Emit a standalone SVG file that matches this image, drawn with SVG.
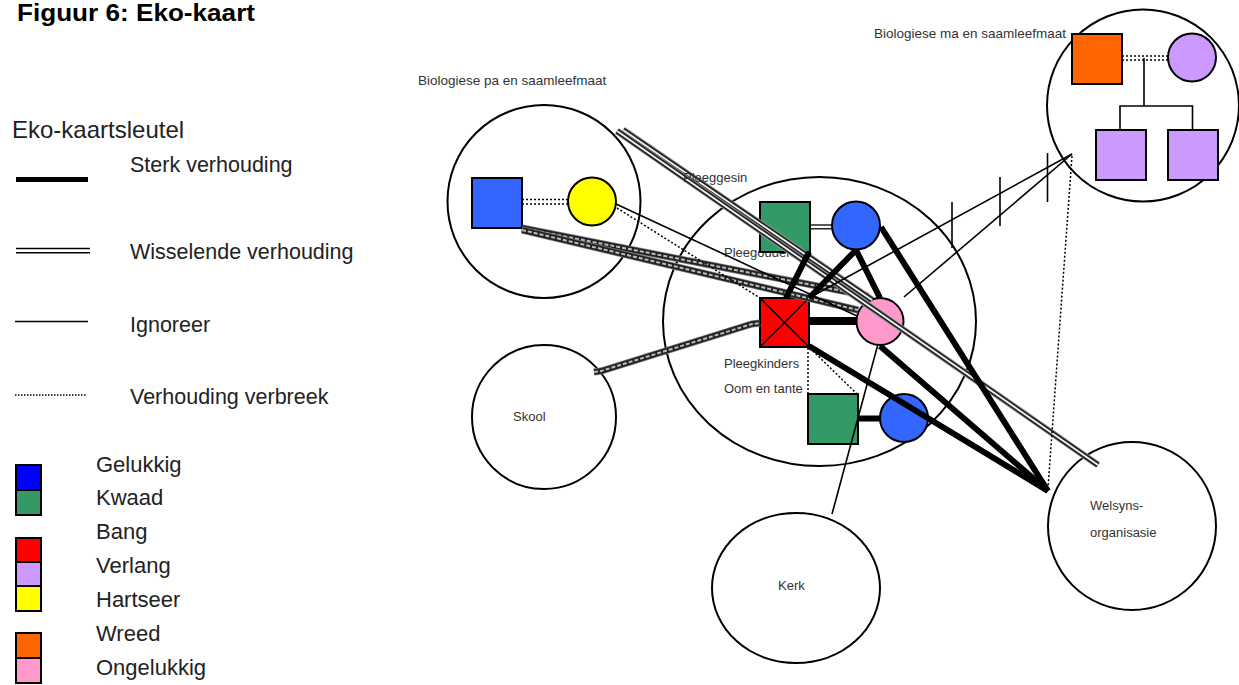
<svg xmlns="http://www.w3.org/2000/svg" width="1239" height="685" viewBox="0 0 1239 685">
<style>
text { font-family: "Liberation Sans", Arial, sans-serif; }
.title { font-size: 24px; font-weight: bold; fill: #000; }
.key { font-size: 21.5px; fill: #222; }
.lbl { font-size: 13px; fill: #333; }
.sq { stroke: #000; stroke-width: 2; }
.ring { fill: none; stroke: #000; stroke-width: 2; }
.strong { stroke: #000; stroke-width: 6; fill: none; }
.thin { stroke: #000; stroke-width: 1.6; fill: none; }
.dot { stroke: #000; stroke-width: 1.5; stroke-dasharray: 2 2; fill: none; }
.dblo { stroke: #999; stroke-width: 7; fill: none; }
.dblm { stroke: #222; stroke-width: 5.2; fill: none; }
.dbli { stroke: #f2f2f2; stroke-width: 1.8; fill: none; }
.cho { stroke: #777; stroke-width: 7; fill: none; }
.chm { stroke: #222; stroke-width: 5.4; fill: none; }
.chi { stroke: #bbb; stroke-width: 2; stroke-dasharray: 4 2; fill: none; }
.blue { fill: #3366FF; } .green { fill: #339966; } .red { fill: #FF0000; }
.purple { fill: #CC99FF; } .yellow { fill: #FFFF00; } .orange { fill: #FF6600; } .pink { fill: #FF99CC; }
</style>

<g id="title"><text class="title" x="17" y="21" textLength="238" lengthAdjust="spacingAndGlyphs">Figuur 6: Eko-kaart</text></g>

<g id="legend">
  <text class="key" x="12" y="138" style="font-size:24px">Eko-kaartsleutel</text>
  <line x1="16" y1="179.5" x2="88" y2="179.5" stroke="#000" stroke-width="5"/>
  <text class="key" x="130" y="172">Sterk verhouding</text>
  <line x1="16" y1="248.5" x2="90" y2="248.5" stroke="#000" stroke-width="1.6"/>
  <line x1="16" y1="252.8" x2="90" y2="252.8" stroke="#000" stroke-width="1.6"/>
  <text class="key" x="130" y="259">Wisselende verhouding</text>
  <line x1="15" y1="321.5" x2="88" y2="321.5" stroke="#000" stroke-width="1.5"/>
  <text class="key" x="130" y="332">Ignoreer</text>
  <line x1="15" y1="395" x2="86" y2="395" stroke="#000" stroke-width="1.3" stroke-dasharray="1.5 1.5"/>
  <text class="key" x="130" y="404">Verhouding verbreek</text>

  <rect class="sq" x="16" y="465" width="25" height="25" fill="#0000FF"/>
  <rect class="sq green" x="16" y="490" width="25" height="25"/>
  <rect class="sq red" x="16" y="538" width="25" height="24"/>
  <rect class="sq purple" x="16" y="562" width="25" height="24"/>
  <rect class="sq yellow" x="16" y="586" width="25" height="25"/>
  <rect class="sq orange" x="16" y="633" width="25" height="25"/>
  <rect class="sq pink" x="16" y="658" width="25" height="25"/>
  <text class="key" x="96" y="472" style="font-size:22px">Gelukkig</text>
  <text class="key" x="96" y="505" style="font-size:22px">Kwaad</text>
  <text class="key" x="96" y="539" style="font-size:22px">Bang</text>
  <text class="key" x="96" y="573" style="font-size:22px">Verlang</text>
  <text class="key" x="96" y="607" style="font-size:22px">Hartseer</text>
  <text class="key" x="96" y="641" style="font-size:22px">Wreed</text>
  <text class="key" x="96" y="675" style="font-size:22px">Ongelukkig</text>
</g>

<g id="bio-pa">
  <text class="lbl" x="418" y="85" style="font-size:13.5px">Biologiese pa en saamleefmaat</text>
  <circle class="ring" cx="544" cy="201.5" r="96.5"/>
  <rect class="sq blue" x="472" y="178" width="50" height="50"/>
  <circle class="sq yellow" cx="592" cy="201.5" r="24"/>
  <line class="dot" x1="522" y1="199.5" x2="568" y2="199.5"/>
  <line class="dot" x1="522" y1="204" x2="568" y2="204"/>
</g>

<g id="bio-ma">
  <text class="lbl" x="874" y="38" style="font-size:13.5px">Biologiese ma en saamleefmaat</text>
  <circle class="ring" cx="1143" cy="105.5" r="96"/>
  <rect class="sq orange" x="1072" y="34" width="50" height="50"/>
  <circle class="sq purple" cx="1192" cy="57.5" r="24"/>
  <line class="dot" x1="1122" y1="56" x2="1168" y2="56"/>
  <line class="dot" x1="1122" y1="60" x2="1168" y2="60"/>
  <polyline class="thin" points="1144,58 1144,106"/>
  <polyline class="thin" points="1120,130 1120,106 1192.5,106 1192.5,130"/>
  <rect class="sq purple" x="1096" y="130" width="50" height="50"/>
  <rect class="sq purple" x="1168" y="130" width="50" height="50"/>
</g>

<g id="pleeggesin">
  <ellipse class="ring" cx="819.5" cy="321.5" rx="156.5" ry="144.5"/>
  <text class="lbl" x="724" y="257">Pleegouders</text>
  <text class="lbl" x="724" y="368">Pleegkinders</text>
  <text class="lbl" x="724" y="393">Oom en tante</text>
</g>

<g id="pleegouders">
  <rect class="sq green" x="760" y="202" width="50" height="50"/>
  <circle class="sq blue" cx="856" cy="225.5" r="24"/>
  <line x1="810" y1="225" x2="832" y2="225" stroke="#000" stroke-width="1.3"/>
  <line x1="810" y1="228.8" x2="832" y2="228.8" stroke="#000" stroke-width="1.3"/>
</g>

<g id="pleegkinders">
  <rect class="sq red" x="760" y="298" width="49" height="49"/>
  <line x1="760" y1="298" x2="809" y2="347" stroke="#000" stroke-width="1.3"/>
  <line x1="809" y1="298" x2="760" y2="347" stroke="#000" stroke-width="1.3"/>
  <circle class="sq pink" cx="880" cy="321.5" r="23.5"/>
</g>

<g id="oom-en-tante">
  <rect class="sq green" x="808" y="394" width="50" height="50"/>
  <circle class="sq blue" cx="904" cy="418" r="24"/>
</g>

<g id="skool">
  <circle class="ring" cx="544" cy="417" r="72"/>
  <text class="lbl" x="513" y="421">Skool</text>
</g>

<g id="kerk">
  <ellipse class="ring" cx="796" cy="588" rx="84" ry="75"/>
  <text class="lbl" x="778" y="590">Kerk</text>
</g>

<g id="welsyns">
  <ellipse class="ring" cx="1132" cy="526" rx="84" ry="84"/>
  <text class="lbl" x="1090" y="510">Welsyns-</text>
  <text class="lbl" x="1090" y="537">organisasie</text>
</g>

<g id="connectors">
  <g>
    <line class="cho" x1="522" y1="228" x2="868" y2="296"/>
    <line class="chm" x1="522" y1="228" x2="868" y2="296"/>
    <line class="chi" x1="522" y1="228" x2="868" y2="296"/>
    <line class="cho" x1="522" y1="230" x2="858" y2="310"/>
    <line class="chm" x1="522" y1="230" x2="858" y2="310"/>
    <line class="chi" x1="522" y1="230" x2="858" y2="310"/>
  </g>
  <g>
    <polyline class="cho" points="594,372 601,371 752,324 760,323"/>
    <polyline class="chm" points="594,372 601,371 752,324 760,323"/>
    <polyline class="chi" points="594,372 601,371 752,324 760,323"/>
  </g>
  <g>
    <line class="dblo" x1="623" y1="130" x2="872" y2="300"/>
    <line class="dblm" x1="623" y1="130" x2="872" y2="300"/>
    <line class="dbli" x1="623" y1="130" x2="872" y2="300"/>
    <line class="dblo" x1="617" y1="131" x2="1098" y2="465"/>
    <line class="dblm" x1="617" y1="131" x2="1098" y2="465"/>
    <line class="dbli" x1="617" y1="131" x2="1098" y2="465"/>
  </g>
  <line class="thin" x1="616" y1="204" x2="857" y2="316"/>
  <line class="thin" x1="1072" y1="154" x2="809" y2="298"/>
  <line class="thin" x1="1072" y1="154" x2="904" y2="297"/>
  <line class="thin" x1="952" y1="202" x2="952" y2="248"/>
  <line class="thin" x1="1000" y1="177" x2="1000" y2="226"/>
  <line class="thin" x1="1047.5" y1="153" x2="1047.5" y2="202"/>
  <line class="thin" x1="878" y1="344" x2="832" y2="514"/>
  <line class="dot" x1="617" y1="208" x2="760" y2="298"/>
  <line class="dot" x1="808" y1="348" x2="808" y2="394"/>
  <line class="dot" x1="810" y1="348" x2="857" y2="394"/>
  <line class="dot" x1="1072" y1="156" x2="1048" y2="488"/>
  <line class="strong" x1="809" y1="252" x2="786" y2="298"/>
  <line class="strong" x1="856" y1="250" x2="809" y2="298"/>
  <line class="strong" x1="856" y1="250" x2="880" y2="298"/>
  <line class="strong" x1="809" y1="321" x2="857" y2="321" style="stroke-width:8"/>
  <line class="strong" x1="881" y1="227" x2="1048" y2="491"/>
  <line class="strong" x1="809" y1="346" x2="1048" y2="491"/>
  <line class="strong" x1="880" y1="346" x2="1048" y2="491"/>
  <line class="strong" x1="858" y1="418.5" x2="880" y2="418.5"/>
</g>

<g id="pleeggesin-label"><text class="lbl" x="683" y="182">Pleeggesin</text></g>
</svg>
